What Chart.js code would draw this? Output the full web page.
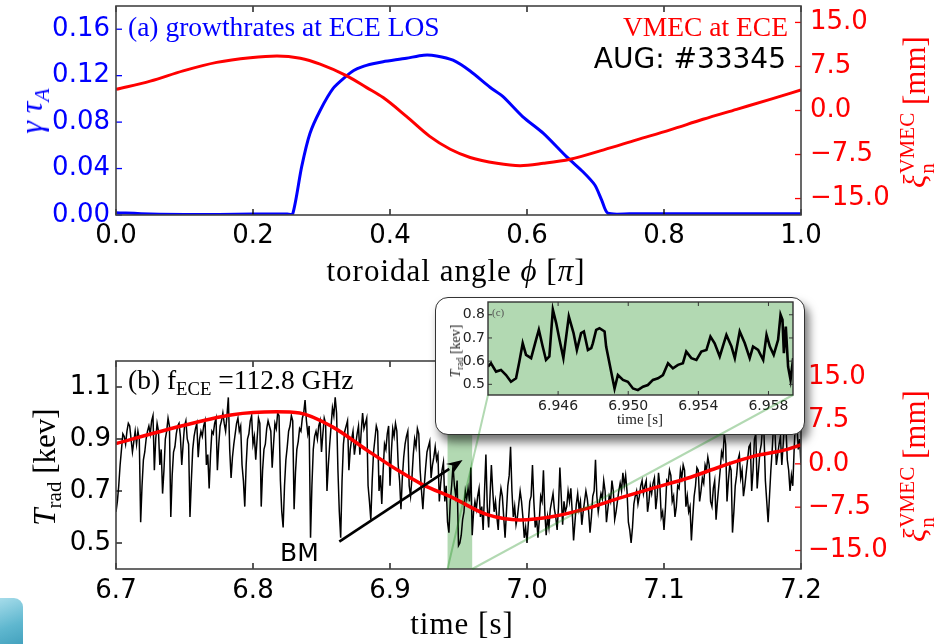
<!DOCTYPE html>
<html><head><meta charset="utf-8">
<script src="https://cdn.jsdelivr.net/npm/chart.js@4.4.1/dist/chart.umd.min.js"></script>
<style>
html,body{margin:0;padding:0;background:#fff;}
#wrap{position:relative;width:940px;height:644px;overflow:hidden;background:#fff;}
canvas{position:absolute;}
.t{position:absolute;white-space:nowrap;line-height:1;font-family:"Liberation Serif","Times New Roman",serif;z-index:6;}
.sans{font-family:"DejaVu Sans",sans-serif;}
.rot{transform:translate(-50%,-50%) rotate(-90deg);}
.ss{display:inline-block;font-size:0.68em;line-height:0.95;vertical-align:-0.45em;margin-left:1px;text-align:left;}
.ss span{display:block;}
sub.s{font-size:0.68em;vertical-align:-0.32em;line-height:0;}
#insetBox{position:absolute;left:435px;top:297px;width:368px;height:136px;border:1.5px solid #333;border-radius:13px;background:#fff;box-shadow:4px 7px 10px rgba(0,0,0,0.55);z-index:2;}
#teal{position:absolute;left:0;top:598px;width:23px;height:50px;border-top-right-radius:9px;background:linear-gradient(160deg,#a6dcea 0%,#5fb7cf 55%,#3f9ebb 100%);z-index:6;}
</style>
</head><body>
<div id="wrap">
<canvas id="cTop" width="940" height="290" style="left:0;top:0;z-index:1"></canvas>
<canvas id="cBot" width="940" height="354" style="left:0;top:290px;z-index:1"></canvas>
<div id="insetBox"></div>
<canvas id="cIn" width="370" height="138" style="left:435px;top:297px;z-index:3"></canvas>
<canvas id="cOver" width="940" height="644" style="left:0;top:0;z-index:4;pointer-events:none"></canvas>

<div class="t" style="left:128px;top:13px;font-size:27.5px;color:#0000ff">(a) growthrates at ECE LOS</div>
<div class="t" style="right:152px;top:13px;font-size:27.5px;color:#ff0000">VMEC at ECE</div>
<div class="t sans" style="right:154px;top:45px;font-size:28px;color:#000">AUG: #33345</div>
<div class="t" style="left:456px;top:255px;font-size:31px;letter-spacing:1px;color:#000;transform:translateX(-50%)">toroidal angle <i>ϕ</i> [<i>π</i>]</div>
<div class="t rot" style="left:31px;top:111px;font-size:32px;color:#0000ff"><i>γ</i> <i>τ</i><sub class="s"><i>A</i></sub></div>
<div class="t rot" style="left:917px;top:112px;font-size:31px;color:#ff0000"><i>ξ</i><span class="ss"><span>VMEC</span><span>n</span></span> [mm]</div>

<div class="t" style="left:128px;top:366px;font-size:27.5px;color:#000">(b) f<sub class="s">ECE</sub> =112.8 GHz</div>
<div class="t sans" style="left:280px;top:540px;font-size:25px;color:#000">BM</div>
<div class="t" style="left:462px;top:608px;font-size:31px;letter-spacing:1px;color:#000;transform:translateX(-50%)">time [s]</div>
<div class="t rot" style="left:44px;top:467px;font-size:31px;color:#000"><i>T</i><sub class="s">rad</sub> [kev]</div>
<div class="t rot" style="left:917px;top:466px;font-size:31px;color:#ff0000"><i>ξ</i><span class="ss"><span>VMEC</span><span>n</span></span> [mm]</div>

<div class="t" style="left:492px;top:307px;font-size:11px;color:#555">(c)</div>
<div class="t" style="left:640px;top:412px;font-size:15px;color:#222;transform:translateX(-50%)">time [s]</div>
<div class="t rot" style="left:456px;top:351px;font-size:14px;color:#222"><i>T</i><sub class="s">rad</sub> [kev]</div>
<div id="teal"></div>
</div>

<script>
// ---------- panel (a): toroidal angle scan ----------
const phiRed   = [0,0.05,0.098,0.147,0.196,0.235,0.269,0.298,0.337,0.366,0.39,0.424,0.458,0.488,0.517,0.556,0.59,0.624,0.663,0.712,0.76,0.809,0.857,0.906,0.955,1.0];
const xiRed    = [3.6,5.0,6.75,8.2,9.0,9.3,8.9,7.9,5.9,3.9,2.2,-1.0,-4.4,-6.6,-8.0,-9.0,-9.4,-9.0,-8.3,-6.7,-5.0,-3.3,-1.5,0.2,1.9,3.5];
const phiBlue  = [0,0.05,0.1,0.15,0.2,0.25,0.258,0.271,0.283,0.298,0.317,0.337,0.347,0.359,0.375,0.39,0.424,0.449,0.468,0.492,0.517,0.546,0.565,0.594,0.624,0.658,0.682,0.699,0.709,0.718,0.75,0.8,0.85,0.9,0.95,1.0];
const gammaBlue= [0.002,0.0008,0.0005,0.0005,0.0008,0.0008,0.001,0.0415,0.070,0.090,0.109,0.120,0.1245,0.1276,0.1302,0.132,0.135,0.1376,0.137,0.1333,0.124,0.110,0.102,0.0846,0.0703,0.050,0.037,0.0258,0.0129,0.0015,0.001,0.001,0.001,0.001,0.001,0.001];
const phiTicks   = [0,0.2,0.4,0.6,0.8,1.0];
const gammaTicks = [0,0.04,0.08,0.12,0.16];
const xiTicks    = [-15,-7.5,0,7.5,15];

// ---------- panel (b): ECE time trace (1 ms samples from 6.700 s) ----------
const tradStart = 6.7, tradStep = 0.001;
const trad = [
0.62,0.66,0.72,0.80,0.86,0.92,0.91,0.88,0.93,0.96,0.95,0.90,0.85,0.89,0.93,0.88,0.93,0.90,0.58,0.72,
0.82,0.85,0.90,0.93,0.95,0.92,0.97,0.99,0.78,0.90,0.96,0.93,0.80,0.86,0.69,0.78,0.90,0.93,0.98,0.95,
0.60,0.76,0.85,0.87,0.92,0.95,0.96,0.91,0.80,0.88,0.95,0.97,0.90,0.88,0.60,0.74,0.86,0.91,0.94,0.96,
0.83,0.90,0.93,0.91,0.95,0.97,0.80,0.84,0.71,0.84,0.93,0.92,0.96,0.98,0.78,0.88,0.95,0.97,1.00,0.96,
0.93,0.99,1.06,0.86,0.75,0.83,0.88,0.92,0.96,0.98,0.93,0.95,0.80,0.74,0.64,0.80,0.90,0.92,0.97,0.99,
0.88,0.91,0.82,0.90,0.98,0.96,0.64,0.78,0.86,0.88,0.94,0.97,0.95,0.93,0.79,0.88,0.96,0.94,1.00,0.99,
0.74,0.62,0.56,0.72,0.82,0.87,0.93,0.95,0.99,0.97,0.63,0.77,0.86,0.89,0.94,0.93,0.98,1.00,1.05,0.97,
0.92,0.95,0.52,0.72,0.86,0.91,0.93,0.90,0.95,0.97,0.85,0.92,0.98,0.96,0.70,0.80,0.88,0.95,1.02,0.99,
1.06,1.00,0.78,0.62,0.52,0.74,0.88,0.93,0.95,0.97,0.78,0.86,0.90,0.93,0.84,0.88,0.92,0.95,0.84,0.93,
1.00,0.94,0.96,0.98,0.72,0.66,0.59,0.74,0.85,0.90,0.95,0.93,0.70,0.76,0.65,0.78,0.88,0.86,0.92,0.95,
0.72,0.85,0.94,0.91,0.96,0.93,0.80,0.74,0.63,0.75,0.83,0.88,0.91,0.93,0.72,0.68,0.75,0.84,0.90,0.87,
0.94,0.92,0.78,0.70,0.63,0.72,0.79,0.85,0.87,0.89,0.75,0.80,0.83,0.87,0.82,0.84,0.66,0.73,0.78,0.81,
0.66,0.72,0.58,0.54,0.66,0.72,0.80,0.72,0.68,0.74,0.49,0.50,0.53,0.59,0.62,0.70,0.67,0.71,0.66,0.79,
0.53,0.62,0.66,0.63,0.68,0.71,0.60,0.64,0.55,0.70,0.84,0.64,0.56,0.68,0.80,0.70,0.62,0.66,0.60,0.55,
0.66,0.71,0.68,0.60,0.52,0.62,0.72,0.76,0.87,0.70,0.60,0.64,0.57,0.60,0.65,0.70,0.66,0.60,0.52,0.56,
0.50,0.58,0.66,0.68,0.80,0.66,0.56,0.60,0.52,0.59,0.68,0.66,0.78,0.62,0.53,0.60,0.56,0.63,0.66,0.69,
0.63,0.60,0.55,0.64,0.79,0.68,0.57,0.66,0.62,0.64,0.70,0.66,0.71,0.62,0.51,0.58,0.65,0.69,0.63,0.66,
0.57,0.62,0.66,0.70,0.67,0.62,0.54,0.60,0.68,0.70,0.82,0.68,0.62,0.66,0.69,0.67,0.74,0.70,0.58,0.63,
0.68,0.66,0.74,0.70,0.59,0.62,0.66,0.70,0.73,0.70,0.77,0.72,0.76,0.70,0.58,0.55,0.50,0.56,0.65,0.68,
0.70,0.65,0.68,0.72,0.74,0.69,0.72,0.74,0.62,0.66,0.72,0.69,0.73,0.75,0.63,0.68,0.77,0.72,0.60,0.62,
0.55,0.63,0.74,0.73,0.78,0.76,0.66,0.68,0.60,0.64,0.72,0.71,0.78,0.75,0.80,0.78,0.64,0.68,0.62,0.64,
0.51,0.60,0.68,0.72,0.79,0.78,0.66,0.70,0.75,0.73,0.80,0.78,0.83,0.80,0.66,0.64,0.71,0.74,0.59,0.66,
0.72,0.78,0.85,0.83,0.92,0.88,0.66,0.74,0.80,0.78,0.54,0.62,0.72,0.76,0.82,0.84,0.75,0.78,0.68,0.72,
0.77,0.82,0.87,0.88,0.70,0.78,0.90,0.92,0.71,0.78,0.85,0.88,0.95,0.92,0.74,0.66,0.58,0.68,0.78,0.86,
0.96,0.93,0.80,0.84,0.88,0.91,0.80,0.88,0.97,0.95,0.82,0.78,0.70,0.76,0.72,0.86,0.98,0.96,0.86,0.90,
0.80];
const tRedB  = [6.70,6.737,6.785,6.817,6.834,6.858,6.883,6.907,6.923,6.946,6.971,6.995,7.019,7.044,7.068,7.092,7.117,7.141,7.165,7.19,7.2];
const xiRedB = [3.5,5.9,8.5,9.0,8.8,6.4,2.4,-1.3,-3.5,-5.9,-8.8,-9.7,-9.1,-7.7,-5.9,-4.2,-2.5,-0.5,1.3,2.5,3.3];
const timeTicks = [6.7,6.8,6.9,7.0,7.1,7.2];
const tradTicks = [0.5,0.7,0.9,1.1];
const zoomRange = [6.942,6.96];
const bmArrow = [[6.863,0.505],[6.953,0.819]];

// ---------- inset (c) ----------
const insetTime = [6.9420,6.94217,6.94246,6.94274,6.94303,6.94331,6.94360,6.94379,6.94398,6.94417,6.94446,6.94474,6.94490,6.94512,6.94531,6.94550,6.94570,6.94589,6.94608,6.94630,6.94661,6.94688,6.94707,6.94731,6.94747,6.94770,6.94789,6.94798,6.94817,6.94836,6.94865,6.94874,6.94893,6.94912,6.94922,6.94941,6.94970,6.94998,6.95027,6.95055,6.95084,6.95112,6.95141,6.95170,6.95198,6.95227,6.95255,6.95284,6.95312,6.95331,6.95360,6.95389,6.95417,6.95446,6.95469,6.95493,6.95522,6.95545,6.95560,6.95589,6.95608,6.95636,6.95665,6.95693,6.95712,6.95741,6.95770,6.95789,6.95808,6.95830,6.95855,6.95869,6.95880,6.95888,6.95899,6.95912,6.95926,6.95941,6.95952];
const insetTrad = [0.576,0.591,0.555,0.562,0.540,0.511,0.526,0.598,0.677,0.627,0.613,0.692,0.735,0.663,0.605,0.620,0.822,0.764,0.692,0.613,0.793,0.721,0.648,0.721,0.728,0.648,0.656,0.677,0.735,0.742,0.728,0.663,0.591,0.519,0.482,0.540,0.519,0.511,0.482,0.475,0.490,0.497,0.519,0.526,0.540,0.591,0.569,0.584,0.591,0.641,0.613,0.605,0.641,0.648,0.706,0.677,0.620,0.677,0.713,0.663,0.613,0.728,0.677,0.613,0.663,0.648,0.605,0.713,0.663,0.627,0.692,0.800,0.778,0.634,0.749,0.576,0.519,0.613,0.519];
const insetTimeTicks = [6.946,6.950,6.954,6.958];
const insetTradTicks = [0.5,0.6,0.7,0.8];

// ---------- helpers ----------
const SANS = '"DejaVu Sans", sans-serif';
const fixTicks = vals => (axis => { axis.ticks = vals.map(v => ({value: v})); });
const pts = (xs, ys) => xs.map((x, i) => ({x: x, y: ys[i]}));
const minus = s => s.replace('-', '\u2212');

function framePlugin(id, cfg) {
  return {
    id: id,
    beforeDatasetsDraw(chart) {
      const a = chart.chartArea, ctx = chart.ctx;
      if (cfg.bg) { ctx.save(); ctx.fillStyle = cfg.bg; ctx.fillRect(a.left, a.top, a.width, a.height); ctx.restore(); }
      if (cfg.shade) {
        const x = chart.scales.x;
        const x0 = x.getPixelForValue(cfg.shade[0]), x1 = x.getPixelForValue(cfg.shade[1]);
        ctx.save(); ctx.fillStyle = 'rgba(0,128,0,0.3)'; ctx.fillRect(x0, a.top, x1 - x0, a.height); ctx.restore();
      }
    },
    afterDatasetsDraw(chart) {
      const a = chart.chartArea, ctx = chart.ctx, L = cfg.len || 6;
      ctx.save();
      if (cfg.arrow) {
        const x = chart.scales.x, y = chart.scales.y;
        const p0 = [x.getPixelForValue(cfg.arrow[0][0]), y.getPixelForValue(cfg.arrow[0][1])];
        const p1 = [x.getPixelForValue(cfg.arrow[1][0]), y.getPixelForValue(cfg.arrow[1][1])];
        const ang = Math.atan2(p1[1] - p0[1], p1[0] - p0[0]);
        const hl = 16, hw = 6;
        const bx = p1[0] - hl * Math.cos(ang), by = p1[1] - hl * Math.sin(ang);
        ctx.strokeStyle = '#000'; ctx.fillStyle = '#000'; ctx.lineWidth = 2.6;
        ctx.beginPath(); ctx.moveTo(p0[0], p0[1]); ctx.lineTo(bx, by); ctx.stroke();
        ctx.beginPath();
        ctx.moveTo(p1[0], p1[1]);
        ctx.lineTo(bx + hw * Math.sin(ang), by - hw * Math.cos(ang));
        ctx.lineTo(bx + 0.35*hl*Math.cos(ang), by + 0.35*hl*Math.sin(ang));
        ctx.lineTo(bx - hw * Math.sin(ang), by + hw * Math.cos(ang));
        ctx.closePath(); ctx.fill();
      }
      ctx.lineWidth = cfg.tickWidth || 1.3;
      for (const [sid, s] of Object.entries(chart.scales)) {
        const sides = cfg.sides[sid] || [];
        ctx.strokeStyle = (cfg.colors && cfg.colors[sid]) || '#000';
        for (const t of s.ticks) {
          const p = s.getPixelForValue(t.value);
          ctx.beginPath();
          for (const side of sides) {
            if (side === 'bottom') { ctx.moveTo(p, a.bottom); ctx.lineTo(p, a.bottom - L); }
            if (side === 'top')    { ctx.moveTo(p, a.top);    ctx.lineTo(p, a.top + L); }
            if (side === 'left')   { ctx.moveTo(a.left, p);   ctx.lineTo(a.left + L, p); }
            if (side === 'right')  { ctx.moveTo(a.right, p);  ctx.lineTo(a.right - L, p); }
          }
          ctx.stroke();
        }
      }
      ctx.strokeStyle = cfg.frameColor || '#444'; ctx.lineWidth = cfg.frameWidth || 1.6;
      ctx.strokeRect(a.left, a.top, a.width, a.height);
      ctx.restore();
    }
  };
}

function axis(opts) {
  return {
    type: 'linear', min: opts.min, max: opts.max, position: opts.position,
    grid: {display: false, drawTicks: false}, border: {display: false},
    afterBuildTicks: fixTicks(opts.ticks),
    afterFit: s => {
      if (opts.position === 'bottom') s.height = opts.size; else s.width = opts.size;
      s.paddingTop = 0; s.paddingBottom = 0; s.paddingLeft = 0; s.paddingRight = 0;
    },
    ticks: {
      color: opts.color || '#000', padding: opts.padding, autoSkip: false, maxRotation: 0,
      font: {family: SANS, size: opts.fontSize || 26},
      callback: opts.fmt
    }
  };
}

const common = {
  responsive: false, animation: false, devicePixelRatio: 1, events: [],
  plugins: {legend: {display: false}, tooltip: {enabled: false}, title: {display: false}},
  elements: {point: {radius: 0}}
};

// ---------- top chart ----------
new Chart(document.getElementById('cTop'), {
  type: 'line',
  data: {datasets: [
    {data: pts(phiRed, xiRed), yAxisID: 'y2', borderColor: '#ff0000', borderWidth: 3, cubicInterpolationMode: 'monotone'},
    {data: pts(phiBlue, gammaBlue), yAxisID: 'y', borderColor: '#0000ff', borderWidth: 3, tension: 0.25}
  ]},
  options: Object.assign({}, common, {
    layout: {padding: {top: 6, left: 0, right: 0, bottom: 0}},
    scales: {
      x: axis({min: 0, max: 1, position: 'bottom', ticks: phiTicks, size: 75, padding: 6, fmt: v => v.toFixed(1)}),
      y: axis({min: 0, max: 0.18, position: 'left', ticks: gammaTicks, size: 116, padding: 6, color: '#0000ff', fmt: v => v.toFixed(2)}),
      y2: axis({min: -17.8, max: 17.8, position: 'right', ticks: xiTicks, size: 139, padding: 9, color: '#ff0000', fmt: v => minus(v.toFixed(1))})
    }
  }),
  plugins: [framePlugin('frameTop', {sides: {x: ['bottom', 'top'], y: ['left'], y2: ['right']}, colors: {x: '#000', y: '#0000ff', y2: '#ff0000'}})]
});

// ---------- inset chart (built first so connectors can use it) ----------
const inset = new Chart(document.getElementById('cIn'), {
  type: 'line',
  data: {datasets: [
    {data: pts(insetTime, insetTrad), yAxisID: 'y', borderColor: '#000', borderWidth: 2.6, tension: 0}
  ]},
  options: Object.assign({}, common, {
    layout: {padding: {top: 5, left: 0, right: 12, bottom: 0}},
    scales: {
      x: axis({min: 6.942, max: 6.9594, position: 'bottom', ticks: insetTimeTicks, size: 40, padding: 3, fontSize: 14, color: '#222', fmt: v => v.toFixed(3)}),
      y: axis({min: 0.454, max: 0.855, position: 'left', ticks: insetTradTicks, size: 53, padding: 3, fontSize: 14, color: '#222', fmt: v => v.toFixed(1)})
    }
  }),
  plugins: [framePlugin('frameIn', {bg: 'rgba(0,128,0,0.3)', len: 4, tickWidth: 1, frameColor: '#333', frameWidth: 1.4, sides: {x: ['bottom', 'top'], y: ['left', 'right']}, colors: {x: '#333', y: '#333'}})]
});

// ---------- bottom chart ----------
const bot = new Chart(document.getElementById('cBot'), {
  type: 'line',
  data: {datasets: [
    {data: pts(tRedB, xiRedB), yAxisID: 'y2', borderColor: '#ff0000', borderWidth: 3.5, cubicInterpolationMode: 'monotone'},
    {data: trad.map((v, i) => ({x: +(tradStart + tradStep * i).toFixed(3), y: v})), yAxisID: 'y', borderColor: '#000', borderWidth: 1.5, tension: 0}
  ]},
  options: Object.assign({}, common, {
    layout: {padding: {top: 71, left: 0, right: 0, bottom: 0}},
    scales: {
      x: axis({min: 6.7, max: 7.2, position: 'bottom', ticks: timeTicks, size: 75, padding: 7, fmt: v => v.toFixed(1)}),
      y: axis({min: 0.4, max: 1.2, position: 'left', ticks: tradTicks, size: 116, padding: 5, fmt: v => v.toFixed(1)}),
      y2: axis({min: -18.2, max: 17.8, position: 'right', ticks: xiTicks, size: 139, padding: 7, color: '#ff0000', fmt: v => minus(v.toFixed(1))})
    }
  }),
  plugins: [framePlugin('frameBot', {shade: zoomRange, arrow: bmArrow, sides: {x: ['bottom', 'top'], y: ['left'], y2: ['right']}, colors: {x: '#000', y: '#000', y2: '#ff0000'}})]
});

// ---------- inset connectors (mark_inset style) ----------
(function () {
  const ctx = document.getElementById('cOver').getContext('2d');
  const bx = bot.scales.x, ba = bot.chartArea, ia = inset.chartArea;
  const botTop = 290, inL = 435, inT = 297;
  ctx.strokeStyle = 'rgba(0,128,0,0.3)'; ctx.lineWidth = 2;
  ctx.beginPath();
  ctx.moveTo(bx.getPixelForValue(zoomRange[0]), botTop + ba.bottom); ctx.lineTo(inL + ia.left, inT + ia.bottom);
  ctx.moveTo(bx.getPixelForValue(zoomRange[1]), botTop + ba.bottom); ctx.lineTo(inL + ia.right, inT + ia.bottom);
  ctx.stroke();
})();
</script>
</body></html>
